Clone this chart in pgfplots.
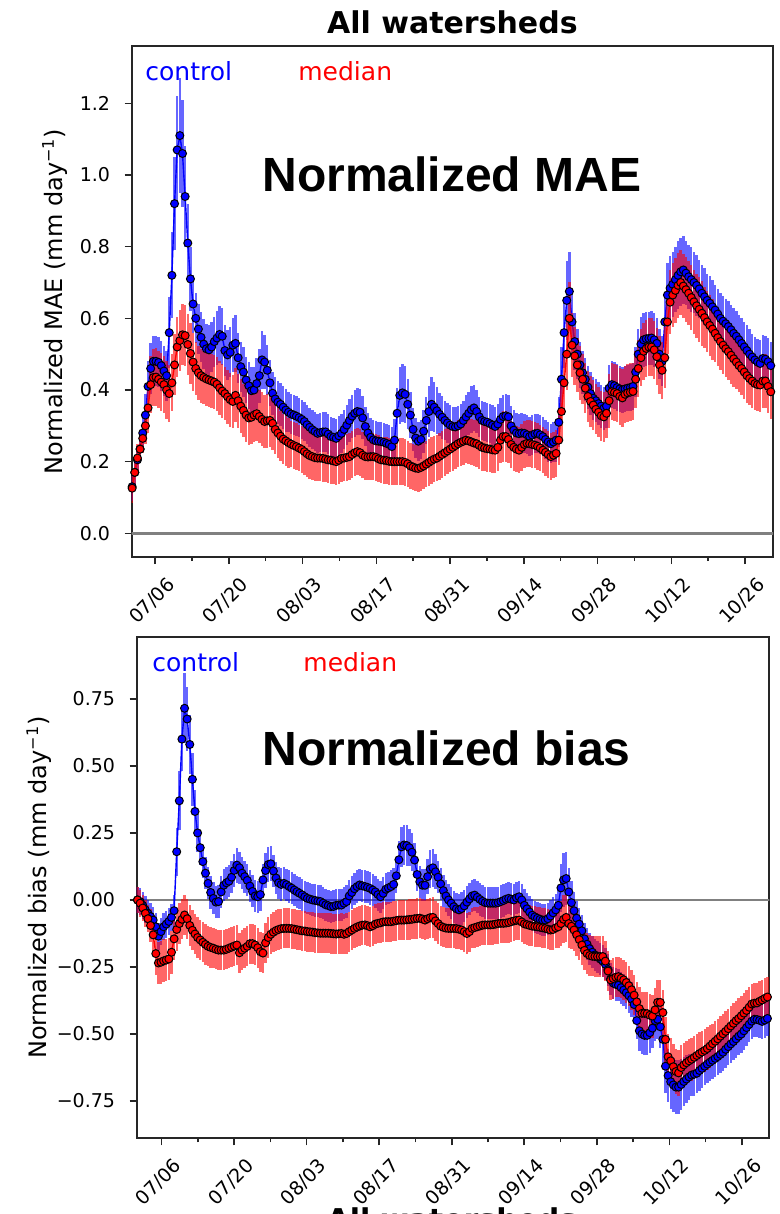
\documentclass[border=0pt]{standalone}
\usepackage{fontspec}
\setmainfont{DejaVu Sans}
\newfontfamily\lib{Liberation Sans}
\usepackage{pgfplots}
\pgfplotsset{compat=1.18}
\usepackage{pgfplotstable}

\pgfplotstableread{
d c ce m me
0.5 0.13 0.04 0.126 0.04
1.0 0.17 0.04 0.17 0.04
1.5 0.205 0.04 0.21 0.04
2.0 0.235 0.04 0.235 0.04
2.5 0.28 0.05 0.265 0.04
3.0 0.33 0.06 0.30 0.05
3.5 0.41 0.07 0.35 0.07
4.0 0.46 0.07 0.415 0.08
4.5 0.48 0.07 0.435 0.08
5.0 0.48 0.07 0.436 0.08
5.5 0.477 0.07 0.43 0.08
6.0 0.468 0.07 0.422 0.08
6.5 0.453 0.07 0.415 0.08
7.0 0.44 0.07 0.40 0.08
7.5 0.56 0.10 0.39 0.08
8.0 0.72 0.12 0.42 0.08
8.5 0.92 0.13 0.47 0.085
9.0 1.07 0.15 0.52 0.085
9.5 1.11 0.16 0.538 0.085
10.0 1.06 0.15 0.554 0.085
10.5 0.94 0.14 0.552 0.085
11.0 0.81 0.11 0.527 0.085
11.5 0.71 0.09 0.502 0.085
12.0 0.64 0.08 0.478 0.08
12.5 0.60 0.07 0.46 0.075
13.0 0.57 0.07 0.448 0.075
13.5 0.547 0.07 0.44 0.075
14.0 0.528 0.07 0.435 0.075
14.5 0.515 0.07 0.431 0.075
15.0 0.512 0.07 0.428 0.075
15.5 0.52 0.07 0.425 0.075
16.0 0.535 0.07 0.422 0.075
16.5 0.545 0.075 0.416 0.075
17.0 0.555 0.08 0.406 0.075
17.5 0.55 0.08 0.397 0.075
18.0 0.51 0.07 0.39 0.075
18.5 0.498 0.07 0.381 0.075
19.0 0.505 0.07 0.373 0.075
19.5 0.525 0.075 0.368 0.075
20.0 0.53 0.08 0.385 0.075
20.5 0.49 0.07 0.37 0.075
21.0 0.465 0.07 0.355 0.075
21.5 0.45 0.07 0.343 0.075
22.0 0.428 0.065 0.33 0.075
22.5 0.412 0.065 0.322 0.075
23.0 0.398 0.065 0.324 0.075
23.5 0.40 0.065 0.33 0.075
24.0 0.418 0.07 0.334 0.075
24.5 0.44 0.075 0.326 0.075
25.0 0.484 0.08 0.318 0.075
25.5 0.478 0.075 0.312 0.075
26.0 0.455 0.07 0.314 0.075
26.5 0.42 0.065 0.315 0.075
27.0 0.391 0.06 0.307 0.075
27.5 0.375 0.06 0.29 0.07
28.0 0.366 0.06 0.28 0.07
28.5 0.36 0.06 0.271 0.07
29.0 0.352 0.06 0.263 0.07
29.5 0.344 0.06 0.258 0.07
30.0 0.338 0.055 0.253 0.07
30.5 0.333 0.055 0.249 0.065
31.0 0.33 0.055 0.245 0.065
31.5 0.327 0.055 0.242 0.065
32.0 0.323 0.055 0.238 0.065
32.5 0.318 0.055 0.234 0.065
33.0 0.312 0.055 0.228 0.065
33.5 0.303 0.055 0.222 0.065
34.0 0.296 0.055 0.217 0.065
34.5 0.289 0.055 0.214 0.065
35.0 0.284 0.055 0.211 0.065
35.5 0.279 0.055 0.21 0.065
36.0 0.281 0.055 0.21 0.065
36.5 0.283 0.055 0.209 0.065
37.0 0.283 0.055 0.207 0.065
37.5 0.277 0.055 0.205 0.065
38.0 0.27 0.055 0.204 0.065
38.5 0.268 0.055 0.202 0.065
39.0 0.265 0.055 0.20 0.065
39.5 0.272 0.055 0.204 0.065
40.0 0.279 0.055 0.209 0.065
40.5 0.29 0.055 0.21 0.065
41.0 0.302 0.055 0.212 0.065
41.5 0.315 0.06 0.214 0.065
42.0 0.327 0.06 0.22 0.065
42.5 0.335 0.065 0.225 0.065
43.0 0.34 0.065 0.228 0.065
43.5 0.338 0.065 0.225 0.065
44.0 0.322 0.06 0.218 0.065
44.5 0.298 0.055 0.214 0.065
45.0 0.28 0.055 0.213 0.065
45.5 0.268 0.055 0.214 0.065
46.0 0.261 0.055 0.214 0.065
46.5 0.258 0.055 0.212 0.065
47.0 0.257 0.055 0.208 0.065
47.5 0.256 0.055 0.205 0.065
48.0 0.254 0.055 0.204 0.065
48.5 0.251 0.055 0.203 0.065
49.0 0.248 0.055 0.201 0.065
49.5 0.242 0.055 0.20 0.065
50.0 0.26 0.06 0.20 0.065
50.5 0.335 0.07 0.20 0.065
51.0 0.385 0.08 0.20 0.065
51.5 0.392 0.08 0.20 0.065
52.0 0.388 0.08 0.198 0.065
52.5 0.36 0.07 0.194 0.065
53.0 0.33 0.065 0.188 0.065
53.5 0.29 0.06 0.185 0.065
54.0 0.266 0.055 0.182 0.065
54.5 0.257 0.055 0.181 0.065
55.0 0.262 0.055 0.184 0.065
55.5 0.285 0.06 0.188 0.065
56.0 0.315 0.065 0.193 0.065
56.5 0.34 0.07 0.198 0.065
57.0 0.36 0.075 0.203 0.065
57.5 0.352 0.07 0.207 0.065
58.0 0.342 0.065 0.21 0.065
58.5 0.332 0.06 0.215 0.065
59.0 0.324 0.06 0.22 0.065
59.5 0.315 0.055 0.225 0.065
60.0 0.308 0.055 0.23 0.065
60.5 0.302 0.055 0.235 0.065
61.0 0.298 0.055 0.24 0.065
61.5 0.297 0.055 0.245 0.065
62.0 0.30 0.055 0.25 0.065
62.5 0.305 0.055 0.254 0.065
63.0 0.315 0.055 0.257 0.065
63.5 0.325 0.06 0.26 0.065
64.0 0.335 0.06 0.258 0.065
64.5 0.345 0.065 0.255 0.065
65.0 0.35 0.065 0.252 0.065
65.5 0.34 0.06 0.25 0.065
66.0 0.325 0.055 0.245 0.065
66.5 0.315 0.055 0.24 0.065
67.0 0.312 0.055 0.238 0.065
67.5 0.31 0.055 0.236 0.065
68.0 0.306 0.055 0.235 0.065
68.5 0.302 0.055 0.233 0.065
69.0 0.298 0.055 0.232 0.065
69.5 0.305 0.055 0.24 0.065
70.0 0.318 0.06 0.26 0.065
70.5 0.326 0.06 0.27 0.07
71.0 0.328 0.06 0.27 0.07
71.5 0.325 0.06 0.262 0.065
72.0 0.30 0.055 0.248 0.065
72.5 0.288 0.055 0.24 0.065
73.0 0.28 0.055 0.235 0.065
73.5 0.278 0.055 0.232 0.065
74.0 0.28 0.055 0.24 0.065
74.5 0.279 0.055 0.248 0.065
75.0 0.275 0.055 0.251 0.065
75.5 0.27 0.055 0.25 0.065
76.0 0.274 0.055 0.248 0.065
76.5 0.278 0.055 0.246 0.065
77.0 0.279 0.055 0.243 0.065
77.5 0.275 0.055 0.238 0.065
78.0 0.27 0.055 0.232 0.065
78.5 0.262 0.055 0.226 0.065
79.0 0.255 0.055 0.22 0.065
79.5 0.25 0.055 0.214 0.065
80.0 0.255 0.055 0.218 0.065
80.5 0.26 0.06 0.223 0.065
81.0 0.31 0.07 0.26 0.07
81.5 0.43 0.09 0.34 0.08
82.0 0.56 0.10 0.42 0.09
82.5 0.65 0.11 0.50 0.10
83.0 0.675 0.11 0.60 0.10
83.5 0.59 0.09 0.525 0.09
84.0 0.535 0.08 0.495 0.08
84.5 0.50 0.07 0.47 0.075
85.0 0.47 0.065 0.448 0.075
85.5 0.448 0.06 0.43 0.07
86.0 0.43 0.06 0.405 0.07
86.5 0.408 0.06 0.382 0.07
87.0 0.39 0.06 0.368 0.07
87.5 0.377 0.06 0.358 0.07
88.0 0.37 0.06 0.346 0.07
88.5 0.362 0.06 0.338 0.07
89.0 0.355 0.06 0.328 0.07
89.5 0.349 0.06 0.325 0.07
90.0 0.355 0.06 0.335 0.07
90.5 0.405 0.065 0.37 0.075
91.0 0.415 0.065 0.395 0.08
91.5 0.412 0.065 0.393 0.08
92.0 0.407 0.065 0.39 0.08
92.5 0.403 0.065 0.382 0.08
93.0 0.40 0.065 0.378 0.08
93.5 0.403 0.065 0.388 0.08
94.0 0.405 0.065 0.392 0.08
94.5 0.407 0.065 0.394 0.08
95.0 0.41 0.065 0.396 0.08
95.5 0.45 0.07 0.43 0.08
96.0 0.50 0.07 0.46 0.08
96.5 0.528 0.075 0.49 0.08
97.0 0.54 0.075 0.508 0.08
97.5 0.543 0.075 0.516 0.08
98.0 0.544 0.075 0.52 0.08
98.5 0.545 0.075 0.52 0.08
99.0 0.54 0.075 0.512 0.08
99.5 0.53 0.07 0.493 0.08
100.0 0.50 0.07 0.47 0.08
100.5 0.48 0.07 0.455 0.08
101.0 0.59 0.08 0.49 0.085
101.5 0.665 0.09 0.59 0.09
102.0 0.684 0.09 0.645 0.09
102.5 0.695 0.09 0.665 0.09
103.0 0.708 0.09 0.678 0.09
103.5 0.72 0.095 0.692 0.09
104.0 0.73 0.095 0.70 0.09
104.5 0.735 0.095 0.69 0.09
105.0 0.726 0.09 0.68 0.09
105.5 0.716 0.09 0.67 0.09
106.0 0.708 0.09 0.658 0.09
106.5 0.70 0.085 0.646 0.09
107.0 0.692 0.085 0.635 0.09
107.5 0.682 0.08 0.625 0.09
108.0 0.67 0.08 0.614 0.09
108.5 0.66 0.08 0.602 0.085
109.0 0.65 0.075 0.59 0.085
109.5 0.642 0.075 0.58 0.085
110.0 0.632 0.075 0.57 0.085
110.5 0.623 0.07 0.558 0.08
111.0 0.612 0.07 0.546 0.08
111.5 0.60 0.07 0.535 0.08
112.0 0.592 0.07 0.525 0.08
112.5 0.585 0.07 0.515 0.08
113.0 0.577 0.07 0.507 0.08
113.5 0.568 0.07 0.497 0.08
114.0 0.558 0.07 0.487 0.08
114.5 0.55 0.07 0.478 0.075
115.0 0.54 0.07 0.468 0.075
115.5 0.53 0.07 0.46 0.075
116.0 0.52 0.07 0.45 0.075
116.5 0.51 0.07 0.44 0.075
117.0 0.50 0.07 0.432 0.075
117.5 0.492 0.065 0.425 0.075
118.0 0.484 0.065 0.418 0.075
118.5 0.478 0.065 0.415 0.075
119.0 0.474 0.065 0.414 0.075
119.5 0.488 0.065 0.425 0.075
120.0 0.486 0.065 0.425 0.075
120.5 0.479 0.065 0.41 0.075
121.0 0.468 0.065 0.395 0.075
}\toptab

\pgfplotstableread{
d c ce m me
0.5 0.0 0.05 0.0 0.05
1.0 -0.006 0.05 -0.012 0.05
1.5 -0.02 0.05 -0.03 0.05
2.0 -0.037 0.05 -0.05 0.05
2.5 -0.05 0.05 -0.07 0.05
3.0 -0.062 0.05 -0.095 0.06
3.5 -0.075 0.05 -0.13 0.07
4.0 -0.10 0.05 -0.20 0.08
4.5 -0.135 0.05 -0.235 0.08
5.0 -0.118 0.05 -0.232 0.08
5.5 -0.10 0.05 -0.227 0.08
6.0 -0.09 0.05 -0.224 0.08
6.5 -0.08 0.05 -0.22 0.08
7.0 -0.065 0.05 -0.195 0.08
7.5 -0.04 0.06 -0.145 0.08
8.0 0.18 0.09 -0.11 0.08
8.5 0.37 0.11 -0.088 0.075
9.0 0.60 0.12 -0.072 0.075
9.5 0.715 0.13 -0.056 0.075
10.0 0.675 0.12 -0.07 0.075
10.5 0.58 0.11 -0.095 0.075
11.0 0.45 0.10 -0.113 0.075
11.5 0.33 0.08 -0.127 0.075
12.0 0.25 0.07 -0.14 0.075
12.5 0.195 0.065 -0.149 0.075
13.0 0.143 0.06 -0.158 0.075
13.5 0.10 0.06 -0.166 0.075
14.0 0.062 0.06 -0.173 0.075
14.5 0.028 0.06 -0.177 0.075
15.0 0.006 0.06 -0.18 0.075
15.5 -0.008 0.06 -0.184 0.075
16.0 -0.006 0.06 -0.187 0.075
16.5 0.03 0.06 -0.187 0.075
17.0 0.055 0.06 -0.187 0.075
17.5 0.064 0.06 -0.184 0.075
18.0 0.07 0.06 -0.18 0.075
18.5 0.085 0.06 -0.176 0.075
19.0 0.11 0.06 -0.172 0.075
19.5 0.13 0.065 -0.168 0.075
20.0 0.12 0.06 -0.197 0.075
20.5 0.10 0.06 -0.187 0.075
21.0 0.087 0.06 -0.18 0.075
21.5 0.073 0.06 -0.173 0.075
22.0 0.052 0.06 -0.163 0.075
22.5 0.032 0.06 -0.163 0.075
23.0 0.015 0.06 -0.168 0.075
23.5 0.012 0.06 -0.178 0.075
24.0 0.02 0.06 -0.193 0.075
24.5 0.075 0.06 -0.198 0.075
25.0 0.11 0.065 -0.16 0.075
25.5 0.132 0.065 -0.14 0.075
26.0 0.135 0.065 -0.128 0.075
26.5 0.108 0.06 -0.12 0.075
27.0 0.082 0.06 -0.114 0.075
27.5 0.064 0.06 -0.11 0.075
28.0 0.058 0.06 -0.107 0.075
28.5 0.062 0.06 -0.106 0.075
29.0 0.057 0.06 -0.106 0.075
29.5 0.05 0.06 -0.106 0.075
30.0 0.044 0.06 -0.107 0.075
30.5 0.037 0.06 -0.109 0.075
31.0 0.031 0.06 -0.111 0.075
31.5 0.025 0.06 -0.113 0.075
32.0 0.019 0.06 -0.115 0.075
32.5 0.012 0.06 -0.116 0.075
33.0 0.006 0.06 -0.118 0.075
33.5 0.003 0.06 -0.119 0.075
34.0 0.0 0.06 -0.12 0.075
34.5 -0.002 0.06 -0.122 0.075
35.0 -0.004 0.06 -0.123 0.075
35.5 -0.006 0.06 -0.124 0.075
36.0 -0.012 0.06 -0.124 0.075
36.5 -0.018 0.06 -0.124 0.075
37.0 -0.021 0.06 -0.124 0.075
37.5 -0.025 0.06 -0.125 0.075
38.0 -0.024 0.06 -0.126 0.075
38.5 -0.02 0.06 -0.127 0.075
39.0 -0.019 0.06 -0.126 0.075
39.5 -0.019 0.06 -0.125 0.075
40.0 -0.012 0.06 -0.128 0.075
40.5 -0.006 0.06 -0.125 0.075
41.0 0.015 0.06 -0.118 0.075
41.5 0.028 0.06 -0.112 0.075
42.0 0.042 0.06 -0.106 0.075
42.5 0.05 0.06 -0.101 0.075
43.0 0.056 0.06 -0.097 0.075
43.5 0.053 0.06 -0.094 0.075
44.0 0.05 0.06 -0.093 0.075
44.5 0.047 0.06 -0.096 0.075
45.0 0.043 0.06 -0.10 0.075
45.5 0.037 0.06 -0.096 0.075
46.0 0.03 0.06 -0.09 0.075
46.5 0.02 0.06 -0.087 0.075
47.0 0.012 0.06 -0.085 0.075
47.5 0.025 0.06 -0.082 0.075
48.0 0.04 0.06 -0.081 0.075
48.5 0.045 0.06 -0.081 0.075
49.0 0.05 0.06 -0.081 0.075
49.5 0.058 0.06 -0.079 0.075
50.0 0.09 0.065 -0.077 0.075
50.5 0.15 0.07 -0.075 0.075
51.0 0.198 0.075 -0.075 0.075
51.5 0.205 0.075 -0.075 0.075
52.0 0.203 0.075 -0.074 0.075
52.5 0.195 0.07 -0.073 0.075
53.0 0.178 0.07 -0.072 0.075
53.5 0.149 0.065 -0.07 0.075
54.0 0.095 0.06 -0.069 0.075
54.5 0.068 0.06 -0.068 0.075
55.0 0.055 0.06 -0.071 0.075
55.5 0.055 0.06 -0.075 0.075
56.0 0.087 0.065 -0.07 0.075
56.5 0.115 0.07 -0.066 0.075
57.0 0.12 0.07 -0.065 0.075
57.5 0.105 0.065 -0.078 0.075
58.0 0.085 0.06 -0.088 0.075
58.5 0.06 0.06 -0.098 0.075
59.0 0.035 0.06 -0.102 0.075
59.5 0.015 0.06 -0.105 0.075
60.0 0.0 0.06 -0.106 0.075
60.5 -0.012 0.06 -0.106 0.075
61.0 -0.025 0.06 -0.106 0.075
61.5 -0.033 0.06 -0.107 0.075
62.0 -0.037 0.06 -0.109 0.075
62.5 -0.032 0.06 -0.112 0.075
63.0 -0.022 0.06 -0.118 0.075
63.5 -0.008 0.06 -0.125 0.075
64.0 0.004 0.06 -0.118 0.075
64.5 0.015 0.06 -0.106 0.075
65.0 0.018 0.06 -0.103 0.075
65.5 0.01 0.06 -0.10 0.075
66.0 0.002 0.06 -0.097 0.075
66.5 -0.005 0.06 -0.094 0.075
67.0 -0.01 0.06 -0.093 0.075
67.5 -0.012 0.06 -0.093 0.075
68.0 -0.012 0.06 -0.093 0.075
68.5 -0.012 0.06 -0.092 0.075
69.0 -0.012 0.06 -0.09 0.075
69.5 -0.01 0.06 -0.088 0.075
70.0 -0.006 0.06 -0.087 0.075
70.5 -0.002 0.06 -0.087 0.075
71.0 0.003 0.06 -0.086 0.075
71.5 0.006 0.06 -0.084 0.075
72.0 0.003 0.06 -0.081 0.075
72.5 0.0 0.06 -0.078 0.075
73.0 0.008 0.06 -0.076 0.075
73.5 0.012 0.06 -0.075 0.075
74.0 0.0 0.06 -0.082 0.075
74.5 -0.02 0.06 -0.089 0.075
75.0 -0.033 0.06 -0.092 0.075
75.5 -0.045 0.06 -0.095 0.075
76.0 -0.057 0.06 -0.097 0.075
76.5 -0.063 0.06 -0.099 0.075
77.0 -0.068 0.06 -0.10 0.075
77.5 -0.072 0.06 -0.102 0.075
78.0 -0.075 0.06 -0.104 0.075
78.5 -0.075 0.06 -0.106 0.075
79.0 -0.07 0.06 -0.109 0.075
79.5 -0.06 0.06 -0.112 0.075
80.0 -0.048 0.06 -0.11 0.075
80.5 -0.037 0.06 -0.104 0.075
81.0 -0.02 0.07 -0.10 0.08
81.5 0.045 0.09 -0.088 0.085
82.0 0.075 0.10 -0.072 0.09
82.5 0.08 0.10 -0.065 0.09
83.0 0.03 0.09 -0.088 0.09
83.5 -0.01 0.08 -0.098 0.085
84.0 -0.04 0.07 -0.112 0.08
84.5 -0.068 0.065 -0.13 0.08
85.0 -0.09 0.06 -0.148 0.075
85.5 -0.115 0.06 -0.168 0.075
86.0 -0.145 0.06 -0.188 0.075
86.5 -0.165 0.06 -0.20 0.075
87.0 -0.182 0.06 -0.207 0.075
87.5 -0.195 0.06 -0.21 0.075
88.0 -0.205 0.06 -0.211 0.075
88.5 -0.212 0.06 -0.211 0.075
89.0 -0.22 0.06 -0.211 0.075
89.5 -0.228 0.06 -0.211 0.075
90.0 -0.24 0.06 -0.228 0.075
90.5 -0.26 0.06 -0.265 0.075
91.0 -0.295 0.06 -0.298 0.075
91.5 -0.31 0.06 -0.293 0.075
92.0 -0.315 0.06 -0.288 0.075
92.5 -0.318 0.06 -0.286 0.075
93.0 -0.327 0.06 -0.292 0.075
93.5 -0.336 0.06 -0.298 0.075
94.0 -0.346 0.06 -0.308 0.075
94.5 -0.357 0.065 -0.32 0.075
95.0 -0.37 0.065 -0.335 0.075
95.5 -0.39 0.07 -0.355 0.075
96.0 -0.45 0.07 -0.38 0.075
96.5 -0.488 0.075 -0.405 0.08
97.0 -0.50 0.075 -0.423 0.08
97.5 -0.505 0.075 -0.423 0.08
98.0 -0.505 0.075 -0.424 0.08
98.5 -0.495 0.075 -0.43 0.08
99.0 -0.478 0.075 -0.433 0.08
99.5 -0.45 0.075 -0.41 0.08
100.0 -0.445 0.075 -0.382 0.085
100.5 -0.473 0.08 -0.382 0.085
101.0 -0.52 0.09 -0.42 0.085
101.5 -0.62 0.10 -0.52 0.085
102.0 -0.655 0.10 -0.585 0.085
102.5 -0.678 0.10 -0.60 0.085
103.0 -0.69 0.10 -0.622 0.085
103.5 -0.698 0.10 -0.64 0.085
104.0 -0.698 0.10 -0.645 0.085
104.5 -0.688 0.095 -0.625 0.085
105.0 -0.677 0.09 -0.615 0.08
105.5 -0.668 0.09 -0.607 0.08
106.0 -0.66 0.085 -0.60 0.08
106.5 -0.653 0.08 -0.594 0.08
107.0 -0.65 0.08 -0.587 0.08
107.5 -0.646 0.075 -0.58 0.08
108.0 -0.636 0.075 -0.573 0.08
108.5 -0.628 0.075 -0.567 0.08
109.0 -0.62 0.07 -0.561 0.08
109.5 -0.612 0.07 -0.554 0.08
110.0 -0.605 0.07 -0.545 0.08
110.5 -0.598 0.07 -0.536 0.075
111.0 -0.591 0.07 -0.527 0.075
111.5 -0.584 0.07 -0.518 0.075
112.0 -0.576 0.07 -0.508 0.075
112.5 -0.568 0.07 -0.499 0.075
113.0 -0.557 0.07 -0.49 0.075
113.5 -0.547 0.07 -0.48 0.075
114.0 -0.537 0.07 -0.47 0.075
114.5 -0.528 0.07 -0.46 0.075
115.0 -0.518 0.07 -0.45 0.075
115.5 -0.508 0.07 -0.442 0.075
116.0 -0.50 0.07 -0.432 0.075
116.5 -0.488 0.07 -0.422 0.075
117.0 -0.476 0.07 -0.412 0.075
117.5 -0.464 0.065 -0.40 0.075
118.0 -0.452 0.065 -0.388 0.075
118.5 -0.445 0.065 -0.385 0.075
119.0 -0.446 0.065 -0.384 0.075
119.5 -0.449 0.065 -0.378 0.075
120.0 -0.453 0.065 -0.373 0.075
120.5 -0.448 0.065 -0.367 0.075
121.0 -0.442 0.065 -0.362 0.075
}\bottab

\pgfplotsset{
  panel/.style={
    scale only axis,
    axis line style={line width=0.9pt, black!85},
    tick align=outside,
    xtick pos=bottom, ytick pos=left,
    major tick length=3.5pt, minor tick length=2pt,
    tick style={line width=0.8pt, black!85},
    xtick={5,19,33,47,61,75,89,103,117},
    xticklabels={07/06,07/20,08/03,08/17,08/31,09/14,09/28,10/12,10/26},
    minor xtick={12,26,40,54,68,82,96,110},
    xticklabel style={anchor=center, yshift=-18.5pt, xshift=-1.5pt, rotate=45, font=\fontsize{9.5}{11}\selectfont},
    yticklabel style={xshift=-3.8pt, font=\fontsize{9.5}{11}\selectfont},
    clip=true,
  },
  ctrl/.style={blue, line width=0.7pt, mark=*, mark size=2.0pt,
    mark options={fill=blue, draw=black, line width=0.5pt, solid},
    error bars/.cd, y dir=both, y explicit, error mark=none,
    error bar style={line width=1.2pt, blue, opacity=0.6}},
  medn/.style={red, line width=0.7pt, mark=*, mark size=2.0pt,
    mark options={fill=red, draw=black, line width=0.5pt, solid},
    error bars/.cd, y dir=both, y explicit, error mark=none,
    error bar style={line width=1.2pt, red, opacity=0.6}},
}

\begin{document}
\begin{tikzpicture}
\path[use as bounding box] (0,0) rectangle (390pt,-607pt);

% ---------- top panel ----------
\begin{axis}[panel,
  at={(65.85pt,-278.5pt)}, anchor=south west,
  width=320.65pt, height=255.5pt,
  xmin=0.57, xmax=122.3, ymin=-0.0661, ymax=1.360,
  ytick={0,0.2,0.4,0.6,0.8,1.0,1.2},
  yticklabels={0.0,0.2,0.4,0.6,0.8,1.0,1.2},
  every axis y label/.style={at={(axis description cs:-0.1196,0.5)}, rotate=90, anchor=center, font=\fontsize{12}{14}\selectfont},
  ylabel={Normalized MAE (mm day\textsuperscript{−1})},
  title={All watersheds},
  every axis title/.style={at={(axis description cs:0.5,1)}, anchor=base, yshift=6pt, font=\bfseries\fontsize{15}{17}\selectfont},
]
\addplot[gray, line width=1.2pt, forget plot] coordinates {(-5,0) (130,0)};
\addplot[ctrl] table[x expr=0.15+1.006*\thisrow{d}, y=c, y error=ce] {\toptab};
\addplot[medn] table[x expr=0.15+1.006*\thisrow{d}, y=m, y error=me] {\toptab};
\node[anchor=base west, inner sep=0pt, text=blue, font=\fontsize{12.5}{14}\selectfont] at (rel axis cs:0.0207,0.9315) {control};
\node[anchor=base west, inner sep=0pt, text=red, font=\fontsize{12.5}{14}\selectfont] at (rel axis cs:0.2593,0.9315) {median};
\node[anchor=base west, inner sep=0pt, font=\lib\bfseries\fontsize{24}{28}\selectfont] at (rel axis cs:0.2032,0.7143) {Normalized MAE};
\end{axis}

% ---------- bottom panel ----------
\begin{axis}[panel,
  at={(68.35pt,-569.15pt)}, anchor=south west,
  width=316.3pt, height=250.8pt,
  xmin=0.2, xmax=122.3, ymin=-0.889, ymax=0.982,
  ytick={-0.75,-0.5,-0.25,0,0.25,0.5,0.75},
  yticklabels={−0.75,−0.50,−0.25,0.00,0.25,0.50,0.75},
  every axis y label/.style={at={(axis description cs:-0.1544,0.5)}, rotate=90, anchor=center, font=\fontsize{12}{14}\selectfont},
  ylabel={Normalized bias (mm day\textsuperscript{−1})},
]
\addplot[gray, line width=1.2pt, forget plot] coordinates {(-5,0) (130,0)};
\addplot[ctrl] table[x expr=-0.15+1.009*\thisrow{d}, y=c, y error=ce] {\bottab};
\addplot[medn] table[x expr=-0.15+1.009*\thisrow{d}, y=m, y error=me] {\bottab};
\node[anchor=base west, inner sep=0pt, text=blue, font=\fontsize{12.5}{14}\selectfont] at (rel axis cs:0.0242,0.9316) {control};
\node[anchor=base west, inner sep=0pt, text=red, font=\fontsize{12.5}{14}\selectfont] at (rel axis cs:0.2629,0.9316) {median};
\node[anchor=base west, inner sep=0pt, font=\lib\bfseries\fontsize{24}{28}\selectfont] at (rel axis cs:0.1981,0.7442) {Normalized bias};
\end{axis}

% clipped title of the panel below, as in the reference
\node[anchor=base, font=\bfseries\fontsize{15}{17}\selectfont] at (226pt,-615pt) {All watersheds};
\end{tikzpicture}
\end{document}
